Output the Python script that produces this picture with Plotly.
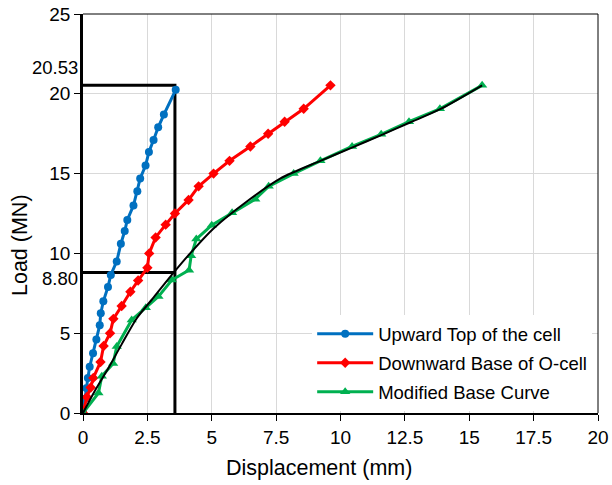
import plotly.graph_objects as go

# ---- data ----
up_x = [0, 0.07, 0.13, 0.19, 0.26, 0.39, 0.52, 0.65, 0.69, 0.79, 0.97, 1.08, 1.31, 1.47,
        1.62, 1.72, 1.96, 2.11, 2.22, 2.43, 2.56, 2.74, 2.92, 3.14, 3.60]
up_y = [0, 0.9, 1.55, 2.2, 2.9, 3.74, 4.6, 5.5, 6.25, 7.0, 7.9, 8.65, 9.5, 10.6,
        11.4, 12.1, 13.0, 13.9, 14.7, 15.5, 16.35, 17.1, 17.9, 18.7, 20.25]

down_x = [0, 0.15, 0.3, 0.4, 0.68, 0.8, 1.05, 1.18, 1.5, 1.84, 2.14, 2.5, 2.57, 2.82,
          3.21, 3.57, 4.1, 4.49, 5.07, 5.69, 6.5, 7.19, 7.83, 8.57, 9.61]
down_y = [0, 1.0, 1.6, 2.2, 3.2, 4.2, 5.0, 5.9, 6.7, 7.6, 8.3, 9.1, 10.0, 11.0,
          11.8, 12.5, 13.35, 14.2, 15.0, 15.8, 16.7, 17.5, 18.25, 19.06, 20.53]

mod_x = [0, 0.6, 0.73, 1.17, 1.31, 1.89, 2.44, 2.93, 3.45, 4.12, 4.2, 4.4, 5.0, 5.79,
         6.69, 7.21, 8.18, 9.22, 10.45, 11.58, 12.66, 13.86, 15.5]
mod_y = [0, 1.25, 2.3, 3.1, 4.16, 5.83, 6.6, 7.3, 8.33, 8.95, 9.85, 10.9, 11.77, 12.55,
         13.4, 14.2, 15.0, 15.8, 16.7, 17.46, 18.25, 19.06, 20.53]

fit_x = [0, 0.5, 1.0, 1.5, 2.09, 2.66, 3.44, 4.16, 5.07, 6.4, 7.67, 9.22, 10.4, 11.56,
         12.7, 13.89, 15.5]
fit_y = [0, 1.5, 2.85, 4.3, 5.94, 7.08, 8.64, 10.0, 11.56, 13.3, 14.7, 15.8, 16.6, 17.4,
         18.2, 19.05, 20.53]

peak_load = 20.53
ref_load = 8.80
ref_disp = 3.57

x_ticks = [0, 2.5, 5, 7.5, 10, 12.5, 15, 17.5, 20]
y_ticks = [0, 5, 10, 15, 20, 25]

FONT = "Liberation Sans, Arial, sans-serif"

fig = go.Figure()

# guide lines
fig.add_trace(go.Scatter(x=[0, ref_disp, ref_disp], y=[peak_load, peak_load, 0],
                         mode="lines", line=dict(color="black", width=3),
                         showlegend=False, hoverinfo="skip"))
fig.add_trace(go.Scatter(x=[0, ref_disp], y=[ref_load, ref_load],
                         mode="lines", line=dict(color="black", width=3),
                         showlegend=False, hoverinfo="skip"))

fig.add_trace(go.Scatter(x=up_x, y=up_y, mode="lines+markers", name="Upward Top of the cell",
                         legendgroup="a",
                         line=dict(color="#0070C0", width=3),
                         marker=dict(symbol="circle", size=8, color="#0070C0")))
fig.add_trace(go.Scatter(x=down_x, y=down_y, mode="lines+markers", name="Downward Base of O-cell",
                         legendgroup="b",
                         line=dict(color="#FF0000", width=3),
                         marker=dict(symbol="diamond", size=8, color="#FF0000")))
fig.add_trace(go.Scatter(x=mod_x, y=mod_y, mode="lines+markers", name="Modified Base Curve",
                         legendgroup="c",
                         line=dict(color="#00B050", width=3),
                         marker=dict(symbol="triangle-up", size=9, color="#00B050")))
fig.add_trace(go.Scatter(x=fit_x, y=fit_y, mode="lines",
                         line=dict(color="black", width=2, shape="spline", smoothing=0.8),
                         showlegend=False, hoverinfo="skip"))

fig.update_layout(
    template="none",
    width=612, height=485,
    margin=dict(l=83, r=14, t=14, b=72, autoexpand=False),
    paper_bgcolor="white", plot_bgcolor="white",
    font=dict(family=FONT, size=19, color="black"),
    showlegend=True,
    legend=dict(x=0.445, y=0.245, xanchor="left", yanchor="top",
                bgcolor="white", borderwidth=0,
                font=dict(family=FONT, size=18.5, color="black"),
                itemwidth=56, traceorder="grouped", tracegroupgap=2),
    xaxis=dict(range=[0, 20], tickvals=x_ticks, ticktext=[f"{v:g}" for v in x_ticks],
               showgrid=True, gridcolor="#d9d9d9", gridwidth=1,
               showline=True, linecolor="black", linewidth=2,
               ticks="outside", ticklen=6, tickcolor="black", tickwidth=1,
               zeroline=False, fixedrange=True, automargin=False),
    yaxis=dict(range=[0, 25], tickvals=y_ticks, ticktext=[str(v) for v in y_ticks],
               showgrid=True, gridcolor="#d9d9d9", gridwidth=1,
               showline=True, linecolor="black", linewidth=2.5,
               ticks="outside", ticklen=6, tickcolor="black", tickwidth=1,
               zeroline=False, fixedrange=True, automargin=False),
)

# top and right frame
fig.add_shape(type="line", xref="paper", yref="paper", x0=0, x1=1, y0=1, y1=1,
              line=dict(color="black", width=1))
fig.add_shape(type="line", xref="paper", yref="paper", x0=1, x1=1, y0=0, y1=1,
              line=dict(color="black", width=1))

# value labels on y axis
fig.add_annotation(x=0, xref="paper", y=peak_load, yref="y", text=f"{peak_load:.2f}",
                   showarrow=False, xanchor="right", yanchor="bottom", xshift=-3, yshift=5,
                   font=dict(family=FONT, size=18.5))
fig.add_annotation(x=0, xref="paper", y=ref_load, yref="y", text=f"{ref_load:.2f}",
                   showarrow=False, xanchor="right", yanchor="middle", xshift=-3, yshift=-6,
                   font=dict(family=FONT, size=18.5))

# axis titles
fig.add_annotation(x=(319 - 83) / 515, xref="paper", y=-55 / 399, yref="paper",
                   text="Displacement (mm)", showarrow=False,
                   xanchor="center", yanchor="middle", font=dict(family=FONT, size=21.5))
fig.add_annotation(x=-63 / 515, xref="paper", y=(413 - 245) / 399, yref="paper",
                   text="Load (MN)", showarrow=False, textangle=-90,
                   xanchor="center", yanchor="middle", font=dict(family=FONT, size=21.5))

fig.write_html("out.html")
